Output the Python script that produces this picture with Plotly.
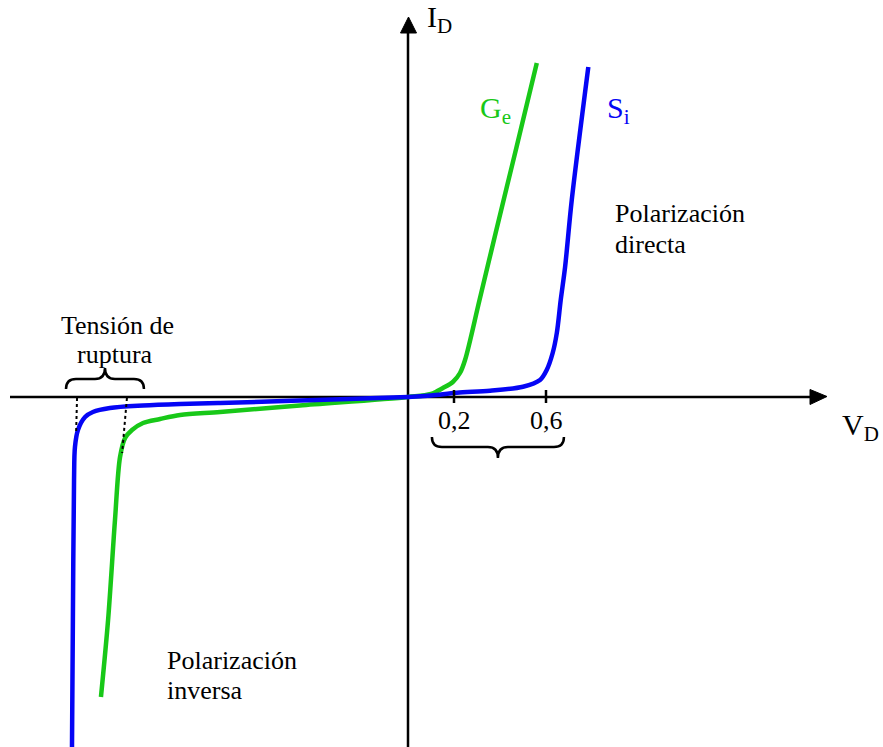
import plotly.graph_objects as go

# Diode I-V characteristic (schematic): germanium vs silicon
# Voltage in volts, current in arbitrary units (positive = forward)

ge_fwd_v = [0.0, 0.1, 0.152, 0.196, 0.226, 0.248, 0.311, 0.381, 0.472, 0.560]
ge_fwd_i = [0, 3, 9, 15.3, 24, 37, 97, 164, 250, 334]

si_fwd_v = [0.0, 0.1, 0.212, 0.357, 0.5, 0.574, 0.603, 0.629, 0.647, 0.664, 0.683, 0.712, 0.784]
si_fwd_i = [0, 1.5, 4.3, 6.3, 10.3, 17, 27, 44, 64, 97, 130, 197, 330]

ge_rev_v = [0.0, -0.470, -0.817, -0.991, -1.078, -1.152, -1.200, -1.230, -1.252, -1.274, -1.304, -1.335]
ge_rev_i = [0, -8.5, -15, -18, -22, -26, -33, -41, -60, -123, -223, -300]

si_rev_v = [0.0, -0.470, -0.817, -0.991, -1.152, -1.296, -1.370, -1.404, -1.435, -1.448, -1.452, -1.457, -1.461]
si_rev_i = [0, -3.5, -6, -7, -8.5, -11, -15, -20, -33, -50, -83, -223, -352]

# breakdown voltage markers (dotted guides)
si_breakdown_v = [-1.439, -1.443]
si_breakdown_i = [-1, -36]
ge_breakdown_v = [-1.222, -1.243]
ge_breakdown_i = [-1, -56]

tick_vals = [0.2, 0.6]
tick_text = ["0,2", "0,6"]

GREEN = "#18c818"
BLUE = "#0505f5"
FONT = "'Liberation Serif', 'Times New Roman', Times, serif"

# axis extents (volts / current units)
X_MIN, X_MAX = -408 / 230, 475 / 230
Y_MIN, Y_MAX = -350, 397
PX_V = 1 / 230  # one screen pixel in volts

fig = go.Figure()


def curve(v_rev, i_rev, v_fwd, i_fwd, color, name):
    v = list(reversed(v_rev)) + v_fwd[1:]
    i = list(reversed(i_rev)) + i_fwd[1:]
    fig.add_trace(go.Scatter(x=v, y=i, mode="lines", name=name,
                             line=dict(color=color, width=4.5, shape="spline", smoothing=0.9),
                             hoverinfo="skip"))


curve(ge_rev_v, ge_rev_i, ge_fwd_v, ge_fwd_i, GREEN, "Ge")
curve(si_rev_v, si_rev_i, si_fwd_v, si_fwd_i, BLUE, "Si")

for bv, bi in ((si_breakdown_v, si_breakdown_i), (ge_breakdown_v, ge_breakdown_i)):
    fig.add_trace(go.Scatter(x=bv, y=bi, mode="lines",
                             line=dict(color="black", width=2, dash="dot"),
                             hoverinfo="skip"))

shapes = []
# axes with arrowheads
x_end = X_MAX - 71 * PX_V
shapes.append(dict(type="line", x0=X_MIN + 10 * PX_V, x1=x_end, y0=0, y1=0,
                   line=dict(color="black", width=2.5), layer="below"))
shapes.append(dict(type="path", fillcolor="black", line=dict(color="black", width=1),
                   path=f"M {x_end - 2*PX_V},{7.5} L {x_end + 15*PX_V},{0.5} L {x_end - 2*PX_V},{-7.5} Z"))
y_end = Y_MAX - 33
shapes.append(dict(type="line", x0=0, x1=0, y0=Y_MIN, y1=y_end,
                   line=dict(color="black", width=2.5), layer="below"))
shapes.append(dict(type="path", fillcolor="black", line=dict(color="black", width=1),
                   path=f"M {-7.5*PX_V},{y_end} L {0.5*PX_V},{y_end + 16} L {8.5*PX_V},{y_end} Z"))

# tick marks on the voltage axis
for tv in tick_vals:
    shapes.append(dict(type="line", x0=tv, x1=tv, y0=7, y1=-6,
                       line=dict(color="black", width=2.5)))


def brace(x0, x1, y_tip, y_end, up):
    """Curly brace between x0 and x1; tip at y_tip, ends at y_end."""
    xm = (x0 + x1) / 2
    ym = (y_tip + y_end) / 2 + (-1 if up else 1) * 0.5
    r = 10 * PX_V
    return (f"M {x0},{y_end} Q {x0},{ym} {x0 + r},{ym} L {xm - r},{ym} "
            f"Q {xm},{ym} {xm},{y_tip} Q {xm},{ym} {xm + r},{ym} "
            f"L {x1 - r},{ym} Q {x1},{ym} {x1},{y_end}")


# bracket over the forward threshold region
shapes.append(dict(type="path", path=brace(0.104, 0.678, -61, -40, up=False),
                   line=dict(color="black", width=2.5)))
# bracket over the breakdown region
shapes.append(dict(type="path", path=brace(-1.487, -1.148, 29, 8, up=True),
                   line=dict(color="black", width=2.5)))

fig.update_layout(shapes=shapes)

ann = []


def text(x, y, s, size=26, color="black", xanchor="left"):
    ann.append(dict(x=x, y=y, text=s, showarrow=False, xanchor=xanchor, yanchor="middle",
                    font=dict(family=FONT, size=size, color=color)))


text(17 * PX_V, 378, "I<sub>D</sub>", size=30)
text(432 * PX_V, -30, "V<sub>D</sub>", size=30)
text(70 * PX_V, 287, "G<sub>e</sub>", size=30, color=GREEN)
text(197 * PX_V, 287, "S<sub>i</sub>", size=30, color=BLUE)
text(205 * PX_V, 184, "Polarización")
text(205 * PX_V, 153, "directa")
text(-243 * PX_V, -263, "Polarización")
text(-243 * PX_V, -293, "inversa")
text(-291 * PX_V, 72, "Tensión de", xanchor="center")
text(-293 * PX_V, 43, "ruptura", xanchor="center")
for tv, tt in zip(tick_vals, tick_text):
    text(tv, -23, tt, xanchor="center")

fig.update_layout(
    annotations=ann,
    width=883, height=747,
    margin=dict(l=0, r=0, t=0, b=0),
    paper_bgcolor="white", plot_bgcolor="white",
    showlegend=False,
    font=dict(family=FONT),
    xaxis=dict(range=[X_MIN, X_MAX], visible=False, fixedrange=True),
    yaxis=dict(range=[Y_MIN, Y_MAX], visible=False, fixedrange=True),
)

fig.write_html("out.html")
